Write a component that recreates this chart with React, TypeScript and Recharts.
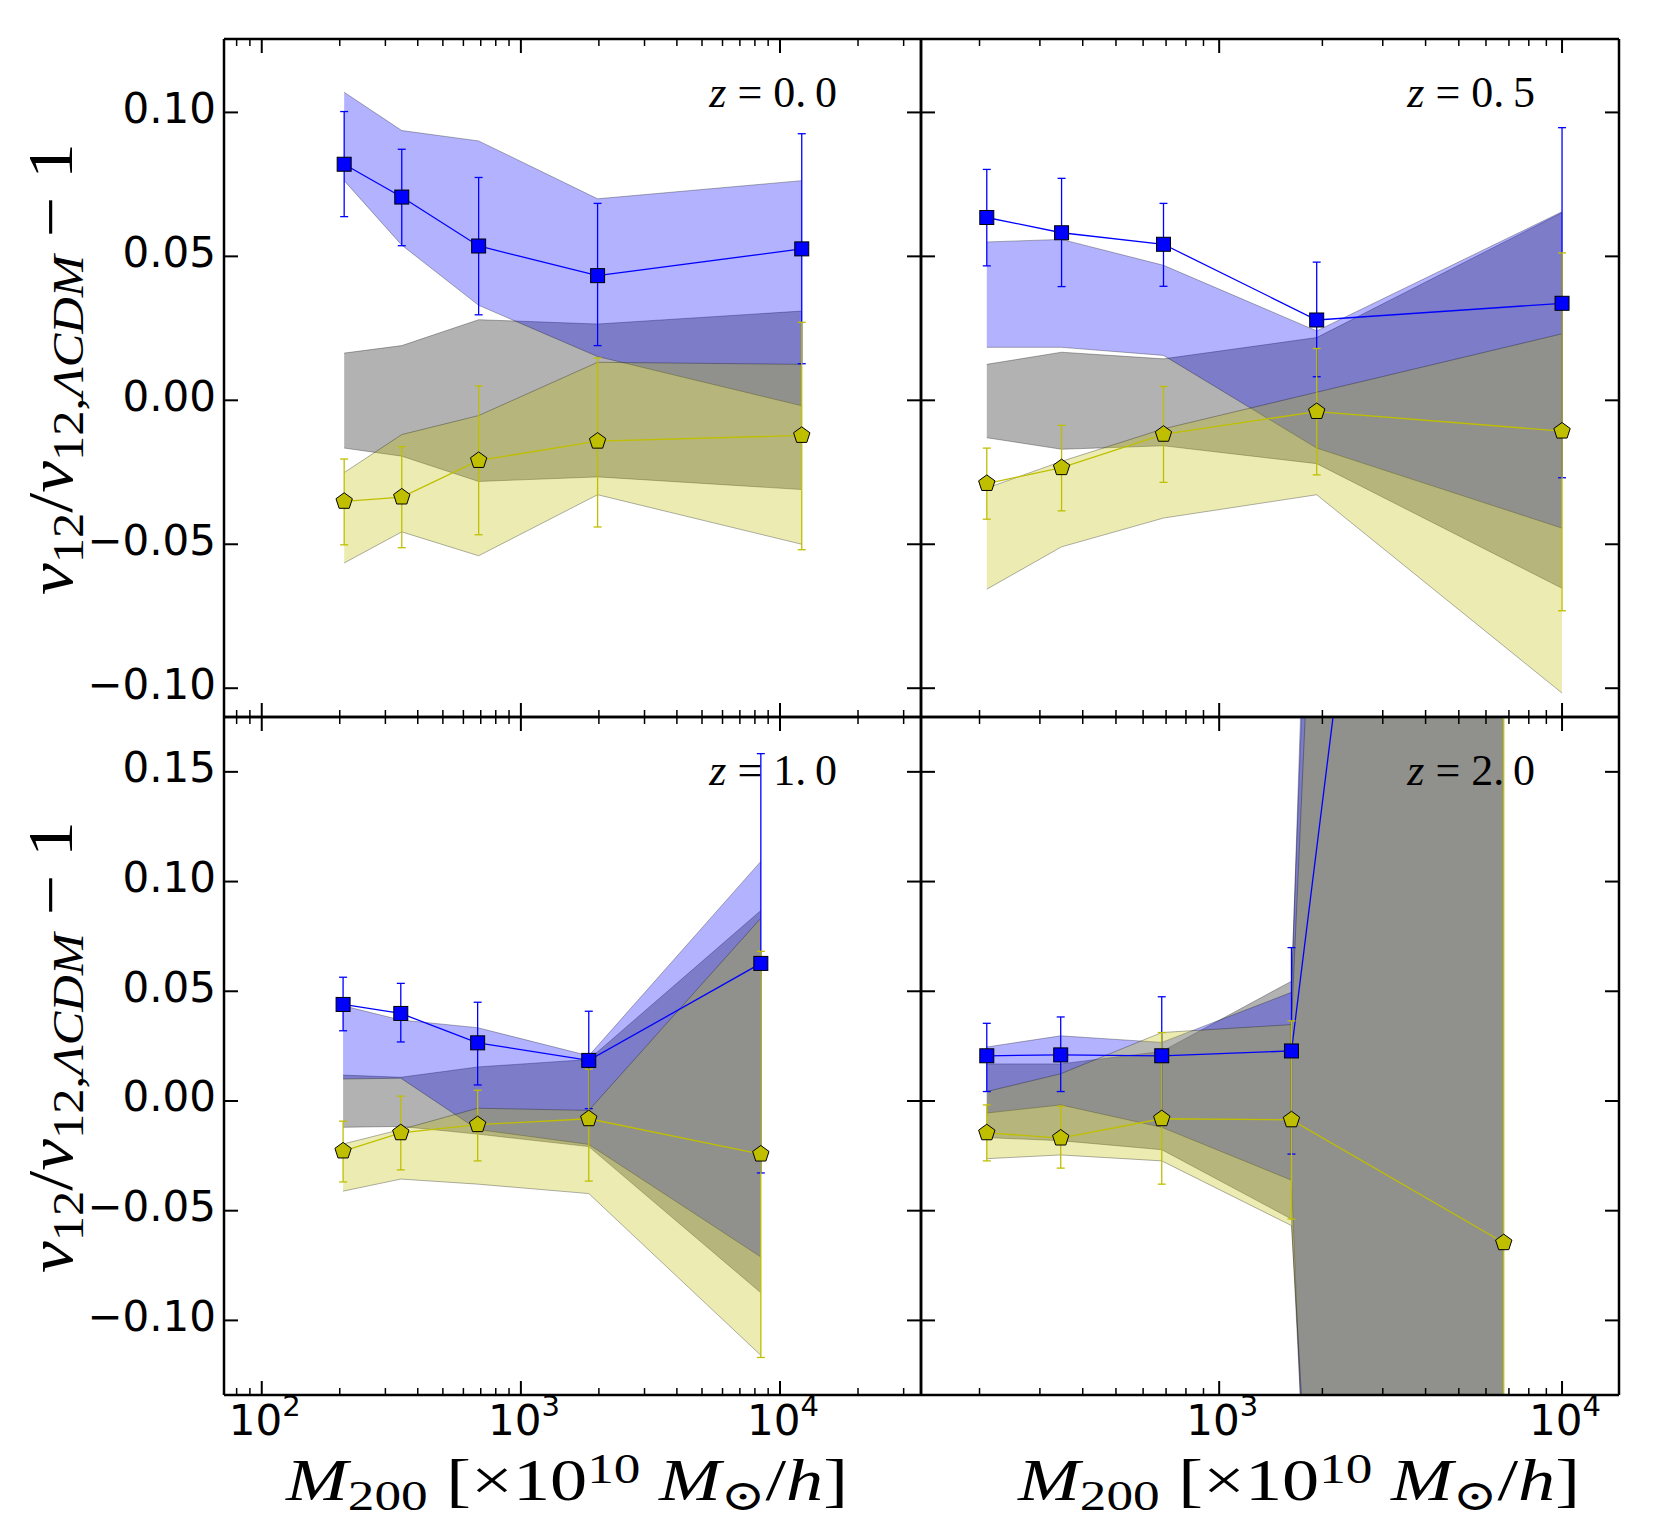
import React from 'react';
import { ComposedChart, Area, Line, XAxis, YAxis, ErrorBar } from 'recharts';

// ---------------- tick values ----------------
const xMajorLeft = [100, 1000, 10000];
const xMinorLeft = [80, 90, 200, 300, 400, 500, 600, 700, 800, 900, 2000, 3000, 4000, 5000, 6000, 7000, 8000, 9000, 20000, 30000];
const xMajorRight = [1000, 10000];
const xMinorRight = [200, 300, 400, 500, 600, 700, 800, 900, 2000, 3000, 4000, 5000, 6000, 7000, 8000, 9000];
const yTicksTop = [-0.1, -0.05, 0, 0.05, 0.1];
const yTicksBottom = [-0.1, -0.05, 0, 0.05, 0.1, 0.15];
const xDomainLeft = [71.5, 35000];
const xDomainRight = [135, 14660];
const yDomainTop = [-0.11, 0.1255];
const yDomainBottom = [-0.134, 0.175];
const redshiftLabels = ['0.0', '0.5', '1.0', '2.0'];

// ---------------- z = 0.0 ----------------
const massZ00 = [208, 347, 687, 1977, 12130];
const blueZ00 = [0.082, 0.0706, 0.0536, 0.0433, 0.0526];
const blueHiZ00 = [0.1003, 0.0872, 0.0774, 0.0684, 0.0926];
const blueLoZ00 = [0.0638, 0.0537, 0.0297, 0.019, 0.0127];
const yelZ00 = [-0.0351, -0.0336, -0.0209, -0.0142, -0.0122];
const yelHiZ00 = [-0.0204, -0.0161, 0.005, 0.0147, 0.0271];
const yelLoZ00 = [-0.0502, -0.0512, -0.0467, -0.044, -0.0519];
const bBandHiZ00 = [0.107, 0.0937, 0.0901, 0.07, 0.0763];
const bBandLoZ00 = [0.0763, 0.0539, 0.033, 0.0152, -0.0019];
const gBandHiZ00 = [0.0164, 0.019, 0.028, 0.0265, 0.031];
const gBandLoZ00 = [-0.0166, -0.0194, -0.0282, -0.0266, -0.031];
const yBandHiZ00 = [-0.0251, -0.0119, -0.0053, 0.0132, 0.0125];
const yBandLoZ00 = [-0.0565, -0.0457, -0.054, -0.0328, -0.05];

// ---------------- z = 0.5 ----------------
const massZ05 = [210, 347, 688, 1925, 10000];
const blueZ05 = [0.0635, 0.0582, 0.0542, 0.0279, 0.0337];
const blueHiZ05 = [0.0802, 0.0771, 0.0684, 0.048, 0.0947];
const blueLoZ05 = [0.0467, 0.0395, 0.0396, 0.0082, -0.0269];
const yelZ05 = [-0.0289, -0.0234, -0.0118, -0.0039, -0.0107];
const yelHiZ05 = [-0.0166, -0.0087, 0.0048, 0.018, 0.0512];
const yelLoZ05 = [-0.0413, -0.0384, -0.0285, -0.0259, -0.0731];
const bBandHiZ05 = [0.055, 0.0559, 0.0469, 0.0241, 0.0655];
const bBandLoZ05 = [0.0184, 0.0184, 0.0156, -0.0166, -0.0444];
const gBandHiZ05 = [0.0125, 0.0167, 0.0144, 0.0218, 0.0652];
const gBandLoZ05 = [-0.013, -0.017, -0.0158, -0.022, -0.0653];
const yBandHiZ05 = [-0.0305, -0.0212, -0.0099, 0.0028, 0.0231];
const yBandLoZ05 = [-0.0656, -0.0509, -0.0409, -0.0328, -0.1017];

// ---------------- z = 1.0 ----------------
const massZ10 = [206, 344, 681, 1828, 8433];
const blueZ10 = [0.044, 0.0399, 0.0265, 0.0185, 0.0627];
const blueHiZ10 = [0.0564, 0.0536, 0.045, 0.0409, 0.1583];
const blueLoZ10 = [0.032, 0.0269, 0.0073, -0.0035, -0.0328];
const yelZ10 = [-0.0228, -0.0145, -0.0108, -0.0081, -0.0242];
const yelHiZ10 = [-0.0092, 0.0022, 0.0049, 0.0145, 0.0682];
const yelLoZ10 = [-0.0369, -0.0314, -0.0273, -0.0365, -0.1169];
const bBandHiZ10 = [0.0434, 0.0369, 0.0334, 0.0206, 0.1092];
const bBandLoZ10 = [0.01, 0.0104, -0.013, -0.0198, -0.0711];
const gBandHiZ10 = [0.0118, 0.0108, 0.0155, 0.0189, 0.0868];
const gBandLoZ10 = [-0.012, -0.0116, -0.0151, -0.0208, -0.0874];
const yBandHiZ10 = [-0.0196, -0.013, -0.0033, -0.0043, 0.0833];
const yBandLoZ10 = [-0.0411, -0.0356, -0.0379, -0.0422, -0.1159];

// ---------------- z = 2.0 ----------------
const massZ20 = [210, 345, 680, 1625, 6760];
const blueZ20 = [0.0206, 0.021, 0.0206, 0.0228, 0.8];
const blueHiZ20 = [0.0354, 0.0383, 0.0475, 0.0699, 1.1];
const blueLoZ20 = [0.0043, 0.0043, -0.006, -0.0242, 0.5];
const yelZ20 = [-0.0145, -0.0169, -0.0081, -0.0086, -0.0646];
const yelHiZ20 = [-0.0018, -0.0024, 0.0312, 0.0365, 1.5];
const yelLoZ20 = [-0.0273, -0.0306, -0.0379, -0.0538, -1.6];
const bBandHiZ20 = [0.0246, 0.0297, 0.0267, 0.0495, 3.0];
const bBandLoZ20 = [-0.0055, -0.0018, -0.012, -0.0361, -2.4];
const gBandHiZ20 = [0.0169, 0.0169, 0.0226, 0.0546, 2.6];
const gBandLoZ20 = [-0.0167, -0.0181, -0.0222, -0.0538, -2.0];
const yBandHiZ20 = [0.0043, 0.0124, 0.0312, 0.0348, 2.2];
const yBandLoZ20 = [-0.0263, -0.0246, -0.0273, -0.0568, -1.7];

function buildRows(
  mass: number[], blue: number[], blueHi: number[], blueLo: number[],
  yel: number[], yelHi: number[], yelLo: number[],
  bHi: number[], bLo: number[], gHi: number[], gLo: number[], yHi: number[], yLo: number[]
) {
  return mass.map((m, i) => ({
    m,
    blue: blue[i],
    blueErr: [blue[i] - blueLo[i], blueHi[i] - blue[i]],
    yellow: yel[i],
    yellowErr: [yel[i] - yelLo[i], yelHi[i] - yel[i]],
    blueBand: [bLo[i], bHi[i]],
    greyBand: [gLo[i], gHi[i]],
    yellowBand: [yLo[i], yHi[i]],
  }));
}

const rowsZ00 = buildRows(massZ00, blueZ00, blueHiZ00, blueLoZ00, yelZ00, yelHiZ00, yelLoZ00, bBandHiZ00, bBandLoZ00, gBandHiZ00, gBandLoZ00, yBandHiZ00, yBandLoZ00);
const rowsZ05 = buildRows(massZ05, blueZ05, blueHiZ05, blueLoZ05, yelZ05, yelHiZ05, yelLoZ05, bBandHiZ05, bBandLoZ05, gBandHiZ05, gBandLoZ05, yBandHiZ05, yBandLoZ05);
const rowsZ10 = buildRows(massZ10, blueZ10, blueHiZ10, blueLoZ10, yelZ10, yelHiZ10, yelLoZ10, bBandHiZ10, bBandLoZ10, gBandHiZ10, gBandLoZ10, yBandHiZ10, yBandLoZ10);
const rowsZ20 = buildRows(massZ20, blueZ20, blueHiZ20, blueLoZ20, yelZ20, yelHiZ20, yelLoZ20, bBandHiZ20, bBandLoZ20, gBandHiZ20, gBandLoZ20, yBandHiZ20, yBandLoZ20);

const BLUE = '#0000ff';
const YELLOW = '#bfbf00';
const SANS = '"DejaVu Sans", sans-serif';
const SERIF = '"Liberation Serif", "DejaVu Serif", serif';

const SquareDot = (props: any) => {
  const { cx, cy, index } = props;
  if (cx == null || cy == null || !isFinite(cx) || !isFinite(cy)) return <g key={`s${index}`} />;
  return <rect key={`s${index}`} x={cx - 7} y={cy - 7} width={14} height={14} fill={BLUE} stroke="#000" strokeWidth={1} />;
};

const PentagonDot = (props: any) => {
  const { cx, cy, index } = props;
  if (cx == null || cy == null || !isFinite(cx) || !isFinite(cy)) return <g key={`p${index}`} />;
  const r = 8.6;
  const pts = [0, 1, 2, 3, 4]
    .map((k) => {
      const a = (-90 + 72 * k) * (Math.PI / 180);
      return `${cx + r * Math.cos(a)},${cy + r * Math.sin(a)}`;
    })
    .join(' ');
  return <polygon key={`p${index}`} points={pts} fill={YELLOW} stroke="#000" strokeWidth={1} />;
};

// tick renderers: draw inward tick marks (+ optional labels) at library-computed positions
function makeXTick(majors: number[], side: 'top' | 'bottom', showLabel: boolean) {
  return (props: any) => {
    const { x, y, payload, index } = props;
    const v = payload.value;
    const major = majors.indexOf(v) >= 0;
    const len = major ? 14 : 7;
    const dir = side === 'bottom' ? -1 : 1;
    const exp = Math.round(Math.log10(v));
    return (
      <g key={`xt${side}${index}`}>
        <line x1={x} y1={y} x2={x} y2={y + dir * len} stroke="#000" strokeWidth={major ? 2 : 1.5} />
        {showLabel && major ? (
          <text x={x + 3} y={y + 40} textAnchor="middle" fontFamily={SANS} fontSize={42} fill="#000">
            <tspan>10</tspan>
            <tspan fontSize={29} dy={-19}>{String(exp)}</tspan>
          </text>
        ) : null}
      </g>
    );
  };
}

function makeYTick(side: 'left' | 'right', showLabel: boolean) {
  return (props: any) => {
    const { x, y, payload, index } = props;
    const raw = payload.value;
    const v = Math.abs(raw) < 1e-9 ? 0 : raw;
    const s = v.toFixed(2).replace('-', '\u2212');
    const dir = side === 'left' ? 1 : -1;
    return (
      <g key={`yt${side}${index}`}>
        <line x1={x} y1={y} x2={x + dir * 14} y2={y} stroke="#000" strokeWidth={2} />
        {showLabel ? (
          <text x={x - 8} y={y + 10.5} textAnchor="end" fontFamily={SANS} fontSize={42} fill="#000">
            {s}
          </text>
        ) : null}
      </g>
    );
  };
}

type PanelProps = {
  rows: any[];
  left: number;
  top: number;
  width: number;
  height: number;
  xDomain: number[];
  yDomain: number[];
  xMajor: number[];
  xMinor: number[];
  yTicks: number[];
  showX: boolean;
  showY: boolean;
};

function Panel(p: PanelProps) {
  const band = { stroke: '#000', strokeOpacity: 0.3, strokeWidth: 1, fillOpacity: 0.3 };
  const frame = { stroke: '#000', strokeWidth: 2.5 };
  const ML = p.showY ? 150 : 12;
  const MB = p.showX ? 70 : 12;
  const MT = 12;
  const MR = 12;
  const xAll = [...p.xMajor, ...p.xMinor].sort((a, b) => a - b);
  return (
    <>
      {/* data layer, clipped to the frame */}
      <div style={{ position: 'absolute', left: p.left, top: p.top, width: p.width, height: p.height, overflow: 'hidden' }}>
        <ComposedChart width={p.width} height={p.height} data={p.rows} margin={{ top: 0, right: 0, bottom: 0, left: 0 }}>
          <XAxis dataKey="m" type="number" scale="log" domain={p.xDomain} allowDataOverflow hide />
          <YAxis type="number" domain={p.yDomain} allowDataOverflow hide />
          <Area type="linear" dataKey="greyBand" fill="#000000" {...band} isAnimationActive={false} dot={false} activeDot={false} />
          <Area type="linear" dataKey="blueBand" fill={BLUE} {...band} isAnimationActive={false} dot={false} activeDot={false} />
          <Area type="linear" dataKey="yellowBand" fill={YELLOW} {...band} isAnimationActive={false} dot={false} activeDot={false} />
          <Line type="linear" dataKey="blue" stroke={BLUE} strokeWidth={1.3} dot={SquareDot} activeDot={false} isAnimationActive={false}>
            <ErrorBar dataKey="blueErr" width={4} stroke={BLUE} strokeWidth={1.3} />
          </Line>
          <Line type="linear" dataKey="yellow" stroke={YELLOW} strokeWidth={1.3} dot={PentagonDot} activeDot={false} isAnimationActive={false}>
            <ErrorBar dataKey="yellowErr" width={4} stroke={YELLOW} strokeWidth={1.3} />
          </Line>
        </ComposedChart>
      </div>
      {/* axes layer: frame, inward ticks, tick labels */}
      <div style={{ position: 'absolute', left: p.left - ML, top: p.top - MT }}>
        <ComposedChart
          width={ML + p.width + MR}
          height={MT + p.height + MB}
          data={p.rows}
          margin={{ top: MT - 1, right: MR - 1, bottom: MB - 1, left: ML - 1 }}
        >
          <XAxis xAxisId="b" dataKey="m" orientation="bottom" type="number" scale="log" domain={p.xDomain} allowDataOverflow ticks={xAll} interval={0} height={1} tickSize={0} tickMargin={0} tickLine={false} axisLine={frame} tick={makeXTick(p.xMajor, 'bottom', p.showX)} />
          <XAxis xAxisId="t" dataKey="m" orientation="top" type="number" scale="log" domain={p.xDomain} allowDataOverflow ticks={xAll} interval={0} height={1} tickSize={0} tickMargin={0} tickLine={false} axisLine={frame} tick={makeXTick(p.xMajor, 'top', false)} />
          <YAxis yAxisId="l" orientation="left" type="number" domain={p.yDomain} allowDataOverflow ticks={p.yTicks} interval={0} width={1} tickSize={0} tickMargin={0} tickLine={false} axisLine={frame} tick={makeYTick('left', p.showY)} />
          <YAxis yAxisId="r" orientation="right" type="number" domain={p.yDomain} allowDataOverflow ticks={p.yTicks} interval={0} width={1} tickSize={0} tickMargin={0} tickLine={false} axisLine={frame} tick={makeYTick('right', false)} />
          <Line xAxisId="b" yAxisId="l" dataKey="blue" stroke="none" dot={false} activeDot={false} isAnimationActive={false} />
        </ComposedChart>
      </div>
    </>
  );
}

function XLabel({ x }: { x: number }) {
  return (
    <text x={x} y={1500} fontFamily={SERIF} fontSize={60} fill="#000" textLength={562} lengthAdjust="spacingAndGlyphs">
      <tspan fontStyle="italic">M</tspan>
      <tspan fontSize={43} dy={10}>200</tspan>
      <tspan dy={-10}>{'\u00a0[\u00d710'}</tspan>
      <tspan fontSize={43} dy={-17}>10</tspan>
      <tspan dy={17} fontStyle="italic">{'\u00a0M'}</tspan>
      <tspan fontSize={43} dy={10}>{'\u2299'}</tspan>
      <tspan dy={-10}>/</tspan>
      <tspan fontStyle="italic">h</tspan>
      <tspan>]</tspan>
    </text>
  );
}

function YLabel({ cy }: { cy: number }) {
  return (
    <text transform={`translate(72, ${cy}) rotate(-90)`} textAnchor="middle" fontFamily={SERIF} fontSize={64} fill="#000" textLength={452} lengthAdjust="spacingAndGlyphs">
      <tspan fontStyle="italic">v</tspan>
      <tspan fontSize={45} dy={11}>12</tspan>
      <tspan dy={-11}>/</tspan>
      <tspan fontStyle="italic">v</tspan>
      <tspan fontSize={45} dy={11}>12,</tspan>
      <tspan fontSize={45} fontStyle="italic">{'\u039bCDM'}</tspan>
      <tspan dy={-11}>{'\u00a0\u2212\u00a01'}</tspan>
    </text>
  );
}

function ZLabel({ xEnd, y, z }: { xEnd: number; y: number; z: string }) {
  return (
    <text x={xEnd} y={y} textAnchor="end" fontFamily={SERIF} fontSize={44} fill="#000">
      <tspan fontStyle="italic">z</tspan>
      <tspan>{'\u00a0=\u00a0' + z.replace('.', '.\u2009')}</tspan>
    </text>
  );
}

export default function App() {
  const L = 224;
  const M = 921;
  const R = 1619;
  const T = 39;
  const MID = 717;
  const B = 1395;
  return (
    <div style={{ position: 'absolute', left: 0, top: 0, width: 1672, height: 1526, background: '#fff' }}>
      <Panel rows={rowsZ00} left={L} top={T} width={M - L} height={MID - T} xDomain={xDomainLeft} yDomain={yDomainTop} xMajor={xMajorLeft} xMinor={xMinorLeft} yTicks={yTicksTop} showX={false} showY={true} />
      <Panel rows={rowsZ05} left={M} top={T} width={R - M} height={MID - T} xDomain={xDomainRight} yDomain={yDomainTop} xMajor={xMajorRight} xMinor={xMinorRight} yTicks={yTicksTop} showX={false} showY={false} />
      <Panel rows={rowsZ10} left={L} top={MID} width={M - L} height={B - MID} xDomain={xDomainLeft} yDomain={yDomainBottom} xMajor={xMajorLeft} xMinor={xMinorLeft} yTicks={yTicksBottom} showX={true} showY={true} />
      <Panel rows={rowsZ20} left={M} top={MID} width={R - M} height={B - MID} xDomain={xDomainRight} yDomain={yDomainBottom} xMajor={xMajorRight} xMinor={xMinorRight} yTicks={yTicksBottom} showX={true} showY={false} />
      <svg width={1672} height={1526} style={{ position: 'absolute', left: 0, top: 0, pointerEvents: 'none' }}>
        <ZLabel xEnd={M - 84} y={T + 68} z={redshiftLabels[0]} />
        <ZLabel xEnd={R - 84} y={T + 68} z={redshiftLabels[1]} />
        <ZLabel xEnd={M - 84} y={MID + 68} z={redshiftLabels[2]} />
        <ZLabel xEnd={R - 84} y={MID + 68} z={redshiftLabels[3]} />
        <XLabel x={286} />
        <XLabel x={1018} />
        <YLabel cy={369} />
        <YLabel cy={1047} />
      </svg>
    </div>
  );
}
